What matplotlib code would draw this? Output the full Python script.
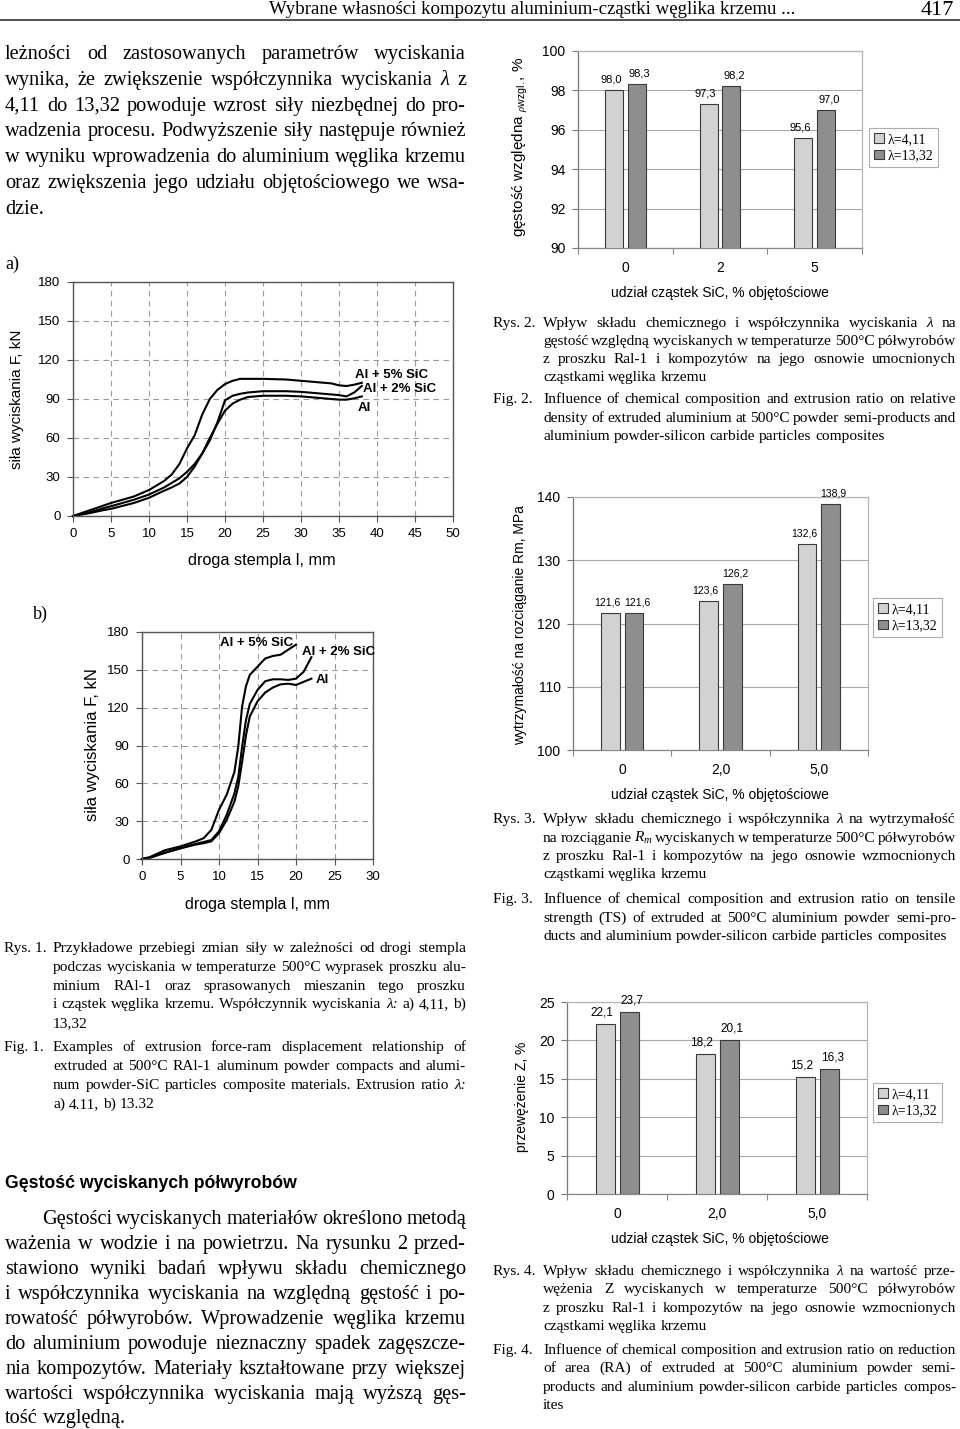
import matplotlib
matplotlib.use("Agg")
import matplotlib.pyplot as plt
from matplotlib.patches import Patch
from matplotlib.lines import Line2D
import numpy as np

SERIF = "Liberation Serif"
SANS = "Liberation Sans"
plt.rcParams["font.family"] = SANS
plt.rcParams["mathtext.fontset"] = "custom"
plt.rcParams["mathtext.rm"] = SERIF
plt.rcParams["mathtext.it"] = SERIF + ":italic"
plt.rcParams["mathtext.sf"] = SANS

# ---------------- data ----------------
# Rys. 1a  (lambda = 4.11): force F [kN] vs ram displacement l [mm]
a_sic5_x = [0, 2, 4, 5, 8, 10, 12, 13, 14, 15, 16, 17, 18, 19, 20, 21, 22, 25, 28, 30, 32, 34, 35, 36, 37, 38]
a_sic5_y = [0, 4, 8, 10, 15, 20, 27, 32, 40, 52, 62, 78, 90, 97, 101.5, 104, 105.5, 105.5, 105, 104, 103, 102, 100.5, 100, 101, 102.5]
a_sic2_x = [0, 2, 4, 5, 8, 10, 12, 13, 14, 15, 16, 17, 18, 19, 20, 21, 22, 23, 25, 28, 30, 33, 35, 36, 37, 38]
a_sic2_y = [0, 2.5, 6, 7.5, 12.5, 16.5, 22, 25.5, 29, 34, 40, 48, 58, 72, 89, 92.5, 94, 95, 96, 96, 95.5, 94, 93, 92, 95, 100]
a_al_x = [0, 2, 4, 5, 8, 10, 12, 13, 14, 15, 16, 17, 18, 19, 20, 21, 22, 23, 25, 28, 30, 33, 35, 36, 37, 38]
a_al_y = [0, 2, 4.5, 5.5, 10, 14, 19.5, 22, 25, 30, 38, 48, 60, 71, 81, 86.5, 89.5, 91.5, 92.5, 92.5, 92, 90.5, 89.5, 89.5, 90.5, 92]

# Rys. 1b  (lambda = 13.32)
b_sic5_x = [0, 1, 3, 5, 7, 8, 9, 10, 11, 12, 12.5, 13, 13.5, 14, 15, 16, 17, 18, 19, 20]
b_sic5_y = [0, 1.5, 7, 10, 14, 16.5, 23, 39, 51, 69, 89, 121, 137, 146, 152.5, 159, 161, 162, 166, 170]
b_sic2_x = [0, 1, 3, 5, 7, 8, 9, 10, 11, 12, 12.5, 13, 13.5, 14, 15, 16, 17, 18, 19, 20, 21, 22]
b_sic2_y = [0, 1, 5, 8.5, 12, 13.5, 15, 22, 35, 52, 65, 89, 110, 123, 134, 141, 142.5, 142.5, 142, 143, 148.5, 160]
b_al_x = [0, 1, 3, 5, 7, 8, 9, 10, 11, 12, 12.5, 13, 13.5, 14, 15, 16, 17, 18, 19, 20, 21, 22]
b_al_y = [0, 1, 5, 8.5, 11.5, 12.5, 14, 20.5, 31, 45.5, 57.5, 77, 98, 113, 125, 132, 136, 138.5, 139, 138, 140.5, 143]

curve_names = ["Al + 5% SiC", "Al + 2% SiC", "Al"]

# Rys. 2-4 bar charts
density_cats = ["0", "2", "5"]
density_l411 = [98.0, 97.3, 95.6]
density_l1332 = [98.3, 98.2, 97.0]

rm_cats = ["0", "2,0", "5,0"]
rm_l411 = [121.6, 123.6, 132.6]
rm_l1332 = [121.6, 126.2, 138.9]

z_cats = ["0", "2,0", "5,0"]
z_l411 = [22.1, 18.2, 15.2]
z_l1332 = [23.7, 20.1, 16.3]

legend_labels = ["λ=4,11", "λ=13,32"]

# ---------------- texts ----------------
header = "Wybrane własności kompozytu aluminium-cząstki węglika krzemu ..."
page_no = "417"

top_para = [
    "leżności od zastosowanych parametrów wyciskania",
    "wynika, że zwiększenie współczynnika wyciskania λ z",
    "4,11 do 13,32 powoduje wzrost siły niezbędnej do pro-",
    "wadzenia procesu. Podwyższenie siły następuje również",
    "w wyniku wprowadzenia do aluminium węglika krzemu",
    "oraz zwiększenia jego udziału objętościowego we wsa-",
    "dzie.",
]
heading = "Gęstość wyciskanych półwyrobów"
bottom_para = [
    "Gęstości wyciskanych materiałów określono metodą",
    "ważenia w wodzie i na powietrzu. Na rysunku 2 przed-",
    "stawiono wyniki badań wpływu składu chemicznego",
    "i współczynnika wyciskania na względną gęstość i po-",
    "rowatość półwyrobów. Wprowadzenie węglika krzemu",
    "do aluminium powoduje nieznaczny spadek zagęszcze-",
    "nia kompozytów. Materiały kształtowane przy większej",
    "wartości współczynnika wyciskania mają wyższą gęs-",
    "tość względną.",
]
rys1 = [
    "Przykładowe przebiegi zmian siły w zależności od drogi stempla",
    "podczas wyciskania w temperaturze 500°C wyprasek proszku alu-",
    "minium RAl-1 oraz sprasowanych mieszanin tego proszku",
    "i cząstek węglika krzemu. Współczynnik wyciskania λ: a) 4,11, b)",
    "13,32",
]
fig1 = [
    "Examples of extrusion force-ram displacement relationship of",
    "extruded at 500°C RAl-1 aluminum powder compacts and alumi-",
    "num powder-SiC particles composite materials. Extrusion ratio λ:",
    "a) 4.11, b) 13.32",
]
rys2 = [
    "Wpływ składu chemicznego i współczynnika wyciskania λ na",
    "gęstość względną wyciskanych w temperaturze 500°C półwyrobów",
    "z proszku Ral-1 i kompozytów na jego osnowie umocnionych",
    "cząstkami węglika krzemu",
]
fig2 = [
    "Influence of chemical composition and extrusion ratio on relative",
    "density of extruded aluminium at 500°C powder semi-products and",
    "aluminium powder-silicon carbide particles composites",
]
rys3 = [
    "Wpływ składu chemicznego i współczynnika λ na wytrzymałość",
    "na rozciąganie $R_m$ wyciskanych w temperaturze 500°C półwyrobów",
    "z proszku Ral-1 i kompozytów na jego osnowie wzmocnionych",
    "cząstkami węglika krzemu",
]
fig3 = [
    "Influence of chemical composition and extrusion ratio on tensile",
    "strength (TS) of extruded at 500°C aluminium powder semi-pro-",
    "ducts and aluminium powder-silicon carbide particles composites",
]
rys4 = [
    "Wpływ składu chemicznego i współczynnika λ na wartość prze-",
    "wężenia Z wyciskanych w temperaturze 500°C półwyrobów",
    "z proszku Ral-1 i kompozytów na jego osnowie wzmocnionych",
    "cząstkami węglika krzemu",
]
fig4 = [
    "Influence of chemical composition and extrusion ratio on reduction",
    "of area (RA) of extruded at 500°C aluminium powder semi-",
    "products and aluminium powder-silicon carbide particles compos-",
    "ites",
]

# ---------------- figure ----------------
W, H = 960, 1429
fig = plt.figure(figsize=(W / 100, H / 100), dpi=100)
fig.patch.set_facecolor("white")
R = fig.canvas.get_renderer()
PT = 100 / 72.0


def measure(s, size, family, style="normal", weight="normal"):
    t = fig.text(0, 0, s, fontsize=size, family=family, style=style, weight=weight)
    w = t.get_window_extent(renderer=R).width
    t.remove()
    return w


def wstyle(w):
    return "italic" if w.startswith("λ") else "normal"


def fit_block(lines, x0, x1, indent=0, family=SERIF, min_gap=0.2, ref=10.0):
    worst = 0
    for i, ln in enumerate(lines):
        ws = ln.split()
        nat = sum(measure(w, ref, family, wstyle(w)) for w in ws) + min_gap * ref * PT * (len(ws) - 1)
        avail = x1 - x0 - (indent if i == 0 else 0)
        worst = max(worst, nat / avail)
    return ref / worst


def draw_block(lines, x0, x1, ys, fs, indent=0, family=SERIF):
    em = fs * PT
    for i, (ln, y) in enumerate(zip(lines, ys)):
        ws = ln.split()
        start = x0 + (indent if i == 0 else 0)
        widths = [measure(w, fs, family, wstyle(w)) for w in ws]
        last = i == len(lines) - 1
        if len(ws) > 1 and not last:
            gap = (x1 - start - sum(widths)) / (len(ws) - 1)
        else:
            gap = 0.25 * em
        x = start
        for w, wd in zip(ws, widths):
            fig.text(x / W, 1 - (y + 0.32 * em) / H, w, fontsize=fs, family=family,
                     style=wstyle(w), va="baseline", ha="left")
            x += wd + gap


def ftext(x, y, s, size, family=SANS, ha="left", rotation=0, weight="normal", va="center"):
    fig.text(x / W, 1 - y / H, s, fontsize=size, family=family, ha=ha, va=va,
             rotation=rotation, weight=weight, rotation_mode="anchor" if rotation else "default")


# header
hs = 525 / measure(header, 10, SERIF) * 10
fig.text(532 / W, 1 - (8 + 0.32 * hs * PT) / H, header, fontsize=hs, family=SERIF, ha="center", va="baseline")
fig.text(954 / W, 1 - (8 + 0.33 * 16 * PT) / H, page_no, fontsize=16, family=SERIF, ha="right", va="baseline")
fig.add_artist(Line2D([0, 1], [1 - 20 / H, 1 - 20 / H], color="#333333", lw=1.2))

# body paragraphs
LX0, LX1 = 5, 466
RX0, RX1 = 543, 956
body_fs = min(15.0, fit_block(top_para, LX0, LX1), fit_block(bottom_para, LX0, LX1, indent=37))
draw_block(top_para, LX0, LX1, [52, 78, 104, 129, 155, 181, 207], body_fs)
draw_block(bottom_para, LX0, LX1, [1217, 1242, 1267, 1292, 1317, 1342, 1367, 1392, 1416], body_fs, indent=37)
hfs = 290 / measure(heading, 10, SANS, weight="bold") * 10
ftext(5, 1183, heading, hfs, SANS, weight="bold")

# captions
cap_blocks = [
    (rys1, "Rys. 1.", 4, 53, 466, [947, 966, 985, 1003, 1022]),
    (fig1, "Fig. 1.", 4, 53, 466, [1046, 1065, 1084, 1103]),
    (rys2, "Rys. 2.", 493, RX0, RX1, [322, 340, 358, 376]),
    (fig2, "Fig. 2.", 493, RX0, RX1, [398, 417, 435]),
    (rys3, "Rys. 3.", 493, RX0, RX1, [818, 837, 855, 873]),
    (fig3, "Fig. 3.", 493, RX0, RX1, [898, 917, 935]),
    (rys4, "Rys. 4.", 493, RX0, RX1, [1270, 1288, 1307, 1325]),
    (fig4, "Fig. 4.", 493, RX0, RX1, [1349, 1367, 1386, 1404]),
]
cap_fs = min([12.0] + [fit_block(b[0], b[3], b[4]) for b in cap_blocks])
for lines, lab, lx, x0, x1, ys in cap_blocks:
    fig.text(lx / W, 1 - (ys[0] + 0.32 * cap_fs * PT) / H, lab, fontsize=cap_fs, family=SERIF,
             ha="left", va="baseline")
    draw_block(lines, x0, x1, ys, cap_fs)

fig.text(5 / W, 1 - (263 + 0.32 * 13 * PT) / H, "a)", fontsize=13, family=SERIF, va="baseline")
fig.text(33 / W, 1 - (613 + 0.32 * 13 * PT) / H, "b)", fontsize=13, family=SERIF, va="baseline")


def axes_px(l, t, r, b):
    return fig.add_axes([l / W, 1 - b / H, (r - l) / W, (b - t) / H])


# ---------------- line charts ----------------
def line_chart(box, xmax, curves, label_xy, xlab_pos, ylab_pos, xlab_fs, ylab_fs):
    ax = axes_px(*box)
    ax.set_xlim(0, xmax)
    ax.set_ylim(0, 180)
    ax.set_xticks(np.arange(0, xmax + 1, 5))
    ax.set_yticks(np.arange(0, 181, 30))
    ax.grid(True, color="#9a9a9a", lw=0.8, ls=(0, (5, 4)))
    ax.set_axisbelow(True)
    for s in ax.spines.values():
        s.set_color("#555555")
        s.set_linewidth(1.0)
    ax.tick_params(labelsize=9.5, length=4, width=0.8, color="#555555", pad=5)
    for (cx, cy) in curves:
        ax.plot(cx, cy, color="black", lw=1.5, clip_on=False)
    for name, (lx, ly) in zip(curve_names, label_xy):
        ax.text(lx, ly, name, fontsize=9.5, weight="bold", ha="left", va="center")
    ftext(xlab_pos[0], xlab_pos[1], "droga stempla l, mm", xlab_fs, ha="center")
    ftext(ylab_pos[0], ylab_pos[1], "siła wyciskania F, kN", ylab_fs, ha="center", rotation=90)
    return ax


line_chart((73, 282, 453, 516), 50,
           [(a_sic5_x, a_sic5_y), (a_sic2_x, a_sic2_y), (a_al_x, a_al_y)],
           [(37.1, 108.5), (38.2, 97.7), (37.5, 83)],
           (262, 560), (17, 399), 11.7, 11.0)
line_chart((142, 632, 373, 859), 30,
           [(b_sic5_x, b_sic5_y), (b_sic2_x, b_sic2_y), (b_al_x, b_al_y)],
           [(10.1, 171), (20.8, 164), (22.5, 142)],
           (257, 905), (92, 745), 11.5, 12.0)

# ---------------- bar charts ----------------
LIGHT, DARK, EDGE = "#d2d2d2", "#8e8e8e", "#3a3a3a"


def fmt(v):
    return f"{v:.1f}".replace(".", ",")


def bar_chart(box, cats, v1, v2, ylim, ystep, ylabel, ylab_pos, ylab_fs, leg_xy, val_fs):
    ax = axes_px(*box)
    x = np.arange(len(cats))
    ax.bar(x - 0.12, v1, 0.19, color=LIGHT, edgecolor=EDGE, lw=0.8, zorder=3)
    ax.bar(x + 0.12, v2, 0.19, color=DARK, edgecolor=EDGE, lw=0.8, zorder=3)
    ax.set_xlim(-0.5, len(cats) - 0.5)
    ax.set_ylim(*ylim)
    ax.set_yticks(np.arange(ylim[0], ylim[1] + 0.1, ystep))
    ax.set_xticks(x)
    ax.set_xticklabels(cats)
    ax.set_xticks(np.arange(-0.5, len(cats)), minor=True)
    ax.yaxis.grid(True, color="#a8a8a8", lw=0.8)
    ax.set_axisbelow(True)
    ax.spines["left"].set_color("#777777")
    ax.spines["bottom"].set_color("#888888")
    ax.spines["top"].set_color("#b5b5b5")
    ax.spines["right"].set_color("#b5b5b5")
    for s in ax.spines.values():
        s.set_linewidth(0.9)
    ax.tick_params(axis="y", labelsize=10, length=4, width=0.8, color="#777777", pad=5)
    ax.tick_params(axis="x", which="major", labelsize=10, length=0, pad=9)
    ax.tick_params(axis="x", which="minor", length=4, width=0.8, color="#888888")
    for xs, vs, dx in ((x - 0.12, v1, -2.2), (x + 0.12, v2, 2.2)):
        for xi, v in zip(xs, vs):
            ax.annotate(fmt(v), (xi, v), xytext=(dx, 4), textcoords="offset points",
                        ha="center", va="bottom", fontsize=val_fs)
    ftext(720, box[3] + 45, "udział cząstek SiC, % objętościowe", 10, ha="center")
    ftext(ylab_pos[0], ylab_pos[1], ylabel, ylab_fs, ha="center", rotation=90)
    handles = [Patch(facecolor=LIGHT, edgecolor=EDGE, lw=0.8), Patch(facecolor=DARK, edgecolor=EDGE, lw=0.8)]
    leg = fig.legend(handles, legend_labels, loc="upper left", bbox_to_anchor=(leg_xy[0] / W, 1 - leg_xy[1] / H),
                     bbox_transform=fig.transFigure, prop={"family": SERIF, "size": 10}, frameon=True,
                     fancybox=False, edgecolor="#999999", handlelength=0.7, handleheight=0.7,
                     handletextpad=0.3, borderpad=0.35, labelspacing=0.25, borderaxespad=0)
    leg.get_frame().set_linewidth(0.8)
    return ax


bar_chart((578, 51, 862, 248), density_cats, density_l411, density_l1332, (90, 100), 2,
          "gęstość względna $_{\\rho\\mathsf{wzgl.}}$, %", (521, 147), 11.0, (869, 128), 8)
bar_chart((573, 497, 868, 750), rm_cats, rm_l411, rm_l1332, (100, 140), 10,
          "wytrzymałość na rozciąganie Rm, MPa", (520, 625), 10.0, (873, 598), 7.5)
bar_chart((567, 1002, 867, 1194), z_cats, z_l411, z_l1332, (0, 25), 5,
          "przewężenie Z, %", (522, 1097), 10.0, (873, 1083), 8.5)

fig.savefig("out.png", dpi=100, facecolor="white")
